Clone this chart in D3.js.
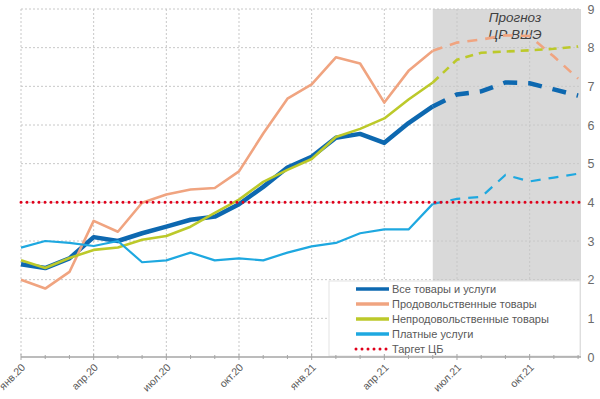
<!DOCTYPE html>
<html><head><meta charset="utf-8">
<script src="https://cdn.jsdelivr.net/npm/d3@7"></script>
<style>body{margin:0;background:#fff}svg{display:block;font-family:"Liberation Sans",Arial,sans-serif}</style>
</head><body><svg id="c" width="600" height="399"></svg>
<script>
// month index 0 = янв.20
const tickLabels = ["янв.20","апр.20","июл.20","окт.20","янв.21","апр.21","июл.21","окт.21"];
const tickMonths = [0,3,6,9,12,15,18,21];
const seriesNames = ["Все товары и услуги","Продовольственные товары","Непродовольственные товары","Платные услуги"];
const seriesColors = ["#0D68B0","#F0A480","#BCC92A","#1EA8E0"];
// actual data: янв.20 .. июн.21 (months 0..17)
const allActual     = [2.4,2.3,2.55,3.1,3.0,3.2,3.37,3.55,3.63,3.95,4.4,4.9,5.18,5.67,5.77,5.54,6.05,6.48];
const foodActual    = [2.0,1.77,2.2,3.52,3.24,3.99,4.2,4.33,4.37,4.8,5.78,6.68,7.05,7.75,7.59,6.58,7.4,7.92];
const nonfoodActual = [2.5,2.3,2.56,2.77,2.83,3.03,3.13,3.37,3.73,4.07,4.53,4.84,5.12,5.69,5.9,6.17,6.66,7.1];
const servActual    = [2.83,3.0,2.95,2.87,3.0,2.45,2.5,2.7,2.5,2.55,2.5,2.7,2.86,2.95,3.2,3.3,3.3,3.96];
// forecast: июн.21 .. дек.21 (months 17..23)
const allFc     = [6.48,6.79,6.87,7.1,7.08,6.92,6.76];
const foodFc    = [7.92,8.13,8.21,8.32,8.3,7.77,7.2];
const nonfoodFc = [7.1,7.69,7.87,7.9,7.93,7.97,8.03];
const servFc    = [3.96,4.09,4.14,4.71,4.54,4.64,4.74];
const target = 4;
const yTicks = [0,1,2,3,4,5,6,7,8,9];
const forecastStart = 17;
const lastMonth = 23;

const svg = d3.select("#c");
const x = d3.scaleLinear().domain([0, 23.12]).range([21, 581]);
const y = d3.scaleLinear().domain([0, 9]).range([357, 9]);

// forecast shading
svg.append("rect").attr("x", x(forecastStart)).attr("y", y(9))
  .attr("width", x.range()[1]-x(forecastStart)).attr("height", y(0)-y(9)).attr("fill","#D9D9D9");

// grid
const g = svg.append("g");
yTicks.filter(v=>v>0).forEach(v=>{
  g.append("line").attr("x1",x(0)).attr("x2",x.range()[1]).attr("y1",y(v)).attr("y2",y(v))
   .attr("stroke","#C8C8C8").attr("stroke-width",1).attr("stroke-dasharray","2,2");
});
tickMonths.forEach(m=>{
  g.append("line").attr("x1",x(m)).attr("x2",x(m)).attr("y1",y(9)).attr("y2",y(0))
   .attr("stroke","#C8C8C8").attr("stroke-width",1).attr("stroke-dasharray","2,2");
});

// forecast label
const lbl = svg.append("text").attr("x",515).attr("font-style","italic").attr("font-size",13.5)
  .attr("fill","#404040").attr("text-anchor","middle");
lbl.append("tspan").attr("x",515).attr("y",22).text("Прогноз");
lbl.append("tspan").attr("x",515).attr("y",39).text("ЦР ВШЭ");

// lines
const line = d3.line().x(d=>x(d[0])).y(d=>y(d[1]));
const actual = [allActual, foodActual, nonfoodActual, servActual];
const fc = [allFc, foodFc, nonfoodFc, servFc];
const widths = [4.5, 2.6, 2.6, 2.2];
const dashes = ["14,11","10,8","8,6","10,8"];
actual.forEach((arr,i)=>{
  svg.append("path").attr("d", line(arr.map((v,k)=>[k,v]))).attr("fill","none")
    .attr("stroke",seriesColors[i]).attr("stroke-width",widths[i]).attr("stroke-linejoin","round");
  svg.append("path").attr("d", line(fc[i].map((v,k)=>[forecastStart+k,v]))).attr("fill","none")
    .attr("stroke",seriesColors[i]).attr("stroke-width",widths[i]).attr("stroke-dasharray",dashes[i]);
});
// target
svg.append("line").attr("x1",x(0)).attr("x2",x.range()[1]).attr("y1",y(target)).attr("y2",y(target))
  .attr("stroke","#E0001B").attr("stroke-width",3).attr("stroke-linecap","round").attr("stroke-dasharray","0,6");

// legend
const lg = svg.append("g");
lg.append("rect").attr("x",329).attr("y",281).attr("width",251).attr("height",75)
  .attr("fill","#fff").attr("stroke","#E3E3E3");
const legItems = seriesNames.map((n,i)=>({n, c:seriesColors[i], w:widths[i], dash:null}))
  .concat([{n:"Таргет ЦБ", c:"#E0001B", w:3, dash:"0,6"}]);
legItems.forEach((d,i)=>{
  const yy = 289 + i*15;
  const l = lg.append("line").attr("x1",356).attr("x2",389).attr("y1",yy).attr("y2",yy)
    .attr("stroke",d.c).attr("stroke-width",d.dash?3:3.5);
  if(d.dash) l.attr("stroke-dasharray",d.dash).attr("stroke-linecap","round");
  lg.append("text").attr("x",392).attr("y",yy+4).attr("font-size",11).attr("fill","#595959").text(d.n);
});

// x axis
svg.append("line").attr("x1",x(0)).attr("x2",x.range()[1]).attr("y1",y(0)).attr("y2",y(0))
  .attr("stroke","#A6A6A6").attr("stroke-width",1.5);
d3.range(0, lastMonth+1).forEach(m=>{
  const maj = tickMonths.includes(m);
  svg.append("line").attr("x1",x(m)).attr("x2",x(m)).attr("y1",y(0)-(maj?3:2)).attr("y2",y(0)+(maj?3:2))
    .attr("stroke","#A6A6A6").attr("stroke-width",1);
});
tickMonths.forEach((m,i)=>{
  svg.append("text").attr("transform",`translate(${x(m)+5},${y(0)+11}) rotate(-45)`)
    .attr("text-anchor","end").attr("font-size",10.5).attr("fill","#595959").text(tickLabels[i]);
});
// y axis labels on right
yTicks.forEach(v=>{
  svg.append("text").attr("x",591).attr("y",y(v)+4.5).attr("text-anchor","middle")
    .attr("font-size",12.5).attr("fill","#6b6b6b").text(v);
});
</script></body></html>
